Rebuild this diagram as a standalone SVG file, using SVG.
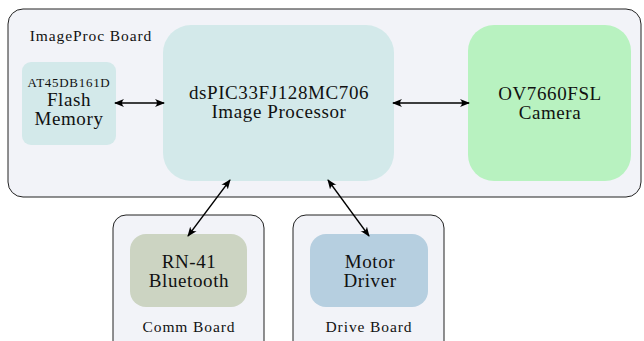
<svg xmlns="http://www.w3.org/2000/svg" width="644" height="341" viewBox="0 0 644 341">
<defs>
<marker id="ah" viewBox="0 0 10 10" refX="9" refY="5" markerWidth="10" markerHeight="10" markerUnits="userSpaceOnUse" orient="auto-start-reverse">
<path d="M0,1 Q4,5 0,9 L10,5 Z" fill="#000"/>
</marker>
<style>
.board{fill:#f2f3f8;stroke:#222;stroke-width:1}
text{fill:#111;text-anchor:middle}
.t{font-size:19px;letter-spacing:0.6px}
.s{font-size:15.5px;letter-spacing:0.9px}
.c{stroke:#000;stroke-width:1.3;fill:none;marker-start:url(#ah);marker-end:url(#ah)}
</style>
</defs>
<g font-family="'Liberation Serif','DejaVu Serif','Times New Roman',serif">
<g id="imageproc-board">
<rect class="board" x="8" y="9" width="633" height="188" rx="15"/>
<text class="s" x="91" y="41">ImageProc Board</text>
</g>
<g id="comm-board">
<rect class="board" x="113" y="215" width="151" height="140" rx="13"/>
<text class="s" x="189" y="332">Comm Board</text>
</g>
<g id="drive-board">
<rect class="board" x="293" y="215" width="151" height="140" rx="13"/>
<text class="s" x="369" y="332">Drive Board</text>
</g>
<g id="flash">
<rect x="22" y="62" width="94" height="83" rx="9" fill="#d3e9ea"/>
<text x="69" y="87" style="font-size:13px;letter-spacing:0.7px">AT45DB161D</text>
<text class="t" x="69" y="106">Flash</text>
<text class="t" x="69" y="125">Memory</text>
</g>
<g id="dspic">
<rect x="163" y="25" width="231" height="156" rx="28" fill="#d3e9ea"/>
<text class="t" x="279" y="99">dsPIC33FJ128MC706</text>
<text class="t" x="279" y="118">Image Processor</text>
</g>
<g id="camera">
<rect x="468" y="25" width="163" height="156" rx="26" fill="#b8f2c0"/>
<text class="t" x="550" y="100">OV7660FSL</text>
<text class="t" x="550" y="119">Camera</text>
</g>
<g id="bluetooth">
<rect x="130" y="234" width="117" height="73" rx="16" fill="#ccd4c2"/>
<text class="t" x="189" y="268">RN-41</text>
<text class="t" x="189" y="287">Bluetooth</text>
</g>
<g id="motor">
<rect x="310" y="234" width="118" height="73" rx="16" fill="#b6cfe0"/>
<text class="t" x="370" y="268">Motor</text>
<text class="t" x="370" y="287">Driver</text>
</g>
</g>
<g id="connectors">
<line class="c" x1="115" y1="103" x2="164" y2="103"/>
<line class="c" x1="393" y1="103" x2="469" y2="103"/>
<line class="c" x1="230" y1="180" x2="188" y2="236"/>
<line class="c" x1="328" y1="180" x2="369" y2="236"/>
</g>
</svg>
